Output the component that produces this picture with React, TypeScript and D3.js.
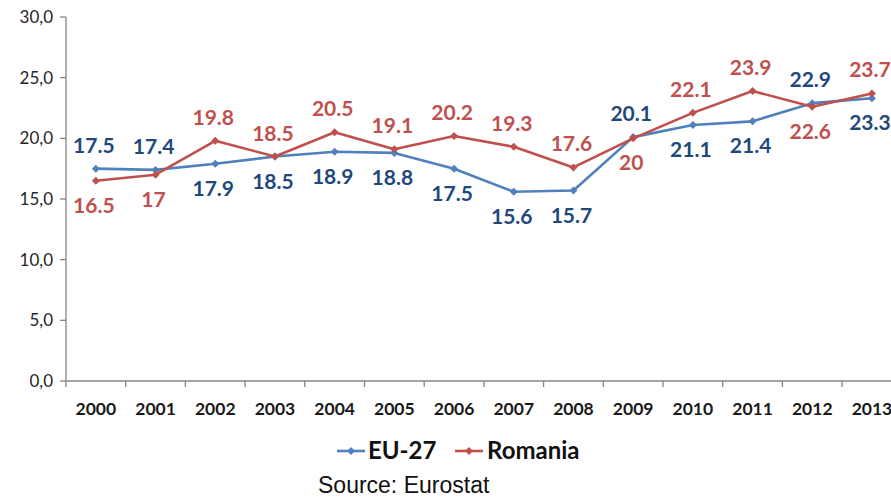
import React from "react";
import * as d3 from "d3";

const years = ["2000","2001","2002","2003","2004","2005","2006","2007","2008","2009","2010","2011","2012","2013"];
const eu27 = [17.5,17.4,17.9,18.5,18.9,18.8,17.5,15.6,15.7,20.1,21.1,21.4,22.9,23.3];
const romania = [16.5,17,19.8,18.5,20.5,19.1,20.2,19.3,17.6,20,22.1,23.9,22.6,23.7];
const euLabelSide = ["a","a","b","b","b","b","b","b","b","a","b","b","a","b"];
const roLabelSide = ["b","b","a","a","a","a","a","a","a","b","a","a","b","a"];
const yTicks = [0,5,10,15,20,25,30];

const W = 891, H = 497;
const x0 = 66, step = 59.7;
const x = d3.scaleBand<string>().domain(years).range([x0, x0 + step * years.length]);
const y = d3.scaleLinear().domain([0, 30]).range([381, 17]);

const EU_LINE = "#4F81BD", EU_TEXT = "#1F497D";
const RO_LINE = "#C0504D", RO_TEXT = "#C0504D";
const FONT = "Lato, 'Open Sans', sans-serif";

function Series({ values, sides, line, text }: { values: number[]; sides: string[]; line: string; text: string }) {
  const gen = d3.line<number>().x((_, i) => (x(years[i]) as number) + x.bandwidth() / 2).y(v => y(v));
  return (
    <g>
      <path d={gen(values) || ""} fill="none" stroke={line} strokeWidth={2.6} strokeLinejoin="round" />
      {values.map((v, i) => {
        const cx = (x(years[i]) as number) + x.bandwidth() / 2;
        const cy = y(v);
        return <path key={i} d={`M${cx},${cy - 4}L${cx + 4},${cy}L${cx},${cy + 4}L${cx - 4},${cy}Z`} fill={line} />;
      })}
      {values.map((v, i) => {
        const cx = (x(years[i]) as number) + x.bandwidth() / 2;
        const cy = y(v) + (sides[i] === "a" ? -16 : 32);
        return (
          <text key={"t" + i} x={cx - 2} y={cy} textAnchor="middle" fontFamily={FONT} fontWeight={700} fontSize={21} fill={text}>
            {String(v)}
          </text>
        );
      })}
    </g>
  );
}

export default function App() {
  return (
    <svg width={W} height={H} style={{ position: "absolute", left: 0, top: 0, background: "#fff" }}>
      <line x1={x0} x2={x0} y1={y(30)} y2={y(0)} stroke="#868686" strokeWidth={1.3} />
      <line x1={x0} x2={x0 + step * years.length} y1={y(0)} y2={y(0)} stroke="#868686" strokeWidth={1.3} />
      {yTicks.map(t => (
        <g key={t}>
          <line x1={x0 - 6} x2={x0} y1={y(t)} y2={y(t)} stroke="#868686" strokeWidth={1.3} />
          <text x={53} y={y(t) + 6} textAnchor="end" fontFamily={FONT} fontSize={17} fill="#262626">
            {t.toFixed(1).replace(".", ",")}
          </text>
        </g>
      ))}
      {years.map((yr) => (
        <g key={yr}>
          <line x1={(x(yr) as number)} x2={(x(yr) as number)} y1={y(0)} y2={y(0) + 6} stroke="#868686" strokeWidth={1.3} />
          <text x={(x(yr) as number) + x.bandwidth() / 2} y={415} textAnchor="middle" fontFamily={FONT} fontWeight={700} fontSize={17.5} fill="#1a1a1a">
            {yr}
          </text>
        </g>
      ))}
      <Series values={eu27} sides={euLabelSide} line={EU_LINE} text={EU_TEXT} />
      <Series values={romania} sides={roLabelSide} line={RO_LINE} text={RO_TEXT} />
      <g>
        <line x1={337} x2={365} y1={451} y2={451} stroke={EU_LINE} strokeWidth={2.6} />
        <path d="M351,447L355,451L351,455L347,451Z" fill={EU_LINE} />
        <text x={368} y={459} fontFamily={FONT} fontWeight={700} fontSize={24} fill="#111">EU-27</text>
        <line x1={455} x2={483} y1={451} y2={451} stroke={RO_LINE} strokeWidth={2.6} />
        <path d="M469,447L473,451L469,455L465,451Z" fill={RO_LINE} />
        <text x={487} y={459} fontFamily={FONT} fontWeight={700} fontSize={24} fill="#111">Romania</text>
      </g>
      <text x={318} y={493} fontFamily="'Liberation Sans', Arial, sans-serif" fontSize={23} fill="#111">Source: Eurostat</text>
    </svg>
  );
}
